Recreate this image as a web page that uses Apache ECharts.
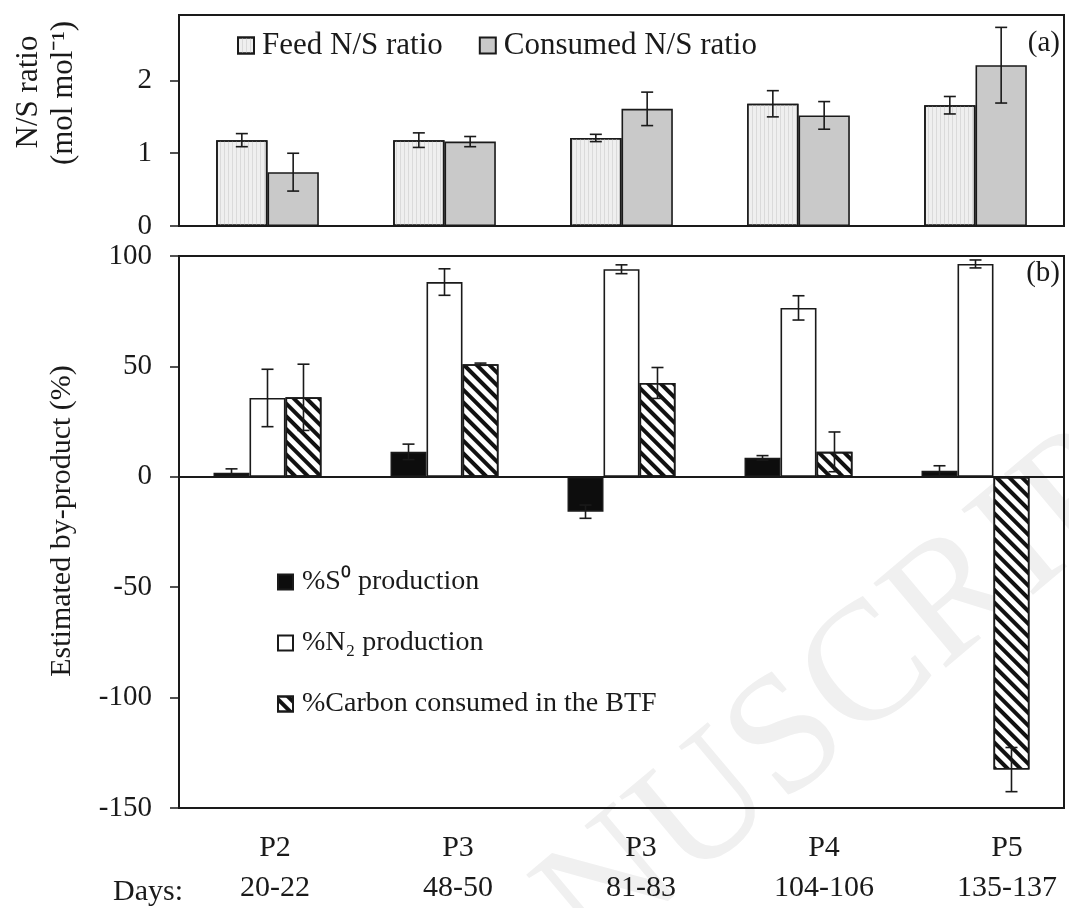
<!DOCTYPE html>
<html>
<head>
<meta charset="utf-8">
<script src="https://cdn.jsdelivr.net/npm/echarts@6/dist/echarts.min.js"></script>
<style>
  html, body { margin: 0; padding: 0; background: #fff; }
  #container { width: 1069px; height: 908px; }
</style>
</head>
<body>
<div id="container"></div>
<script>
var dom = document.getElementById("container");
var myChart = echarts.init(dom);

var phases = ['P2', 'P3', 'P3', 'P4', 'P5'];
var days = ['20-22', '48-50', '81-83', '104-106', '135-137'];
var categories = phases.map(function (p, i) { return p + '\n' + days[i]; });

// (a) N/S ratio
var feedNS = [1.18, 1.18, 1.21, 1.68, 1.66];
var feedNSErr = [0.09, 0.10, 0.05, 0.18, 0.12];
var consNS = [0.74, 1.16, 1.61, 1.52, 2.21];
var consNSErr = [0.26, 0.07, 0.23, 0.19, 0.52];

// (b) by-products (%)
var s0Prod = [1.8, 11.3, -15.8, 8.6, 2.7];
var s0Err = [1.8, 3.5, 3.0, 1.0, 2.3];
var n2Prod = [35.7, 88.2, 94.0, 76.5, 96.4];
var n2Err = [13, 6, 2, 5.5, 1.8];
var carbonCons = [36, 51, 42.5, 11.3, -132.6];
var carbonErr = [15, 0.5, 7, 9, 10];

var topTicks = [0, 1, 2];
var bottomTicks = [-150, -100, -50, 0, 50, 100];

var FONT = "'Liberation Serif', 'Times New Roman', serif";
var INK = '#1a1a1a';

function errData(vals, errs) {
    return vals.map(function (v, i) { return [i, v - errs[i], v + errs[i]]; });
}

function errRender(pos, nBars, gap) {
    return function (params, api) {
        var x = api.value(0);
        var lo = api.coord([x, api.value(1)]);
        var hi = api.coord([x, api.value(2)]);
        var cw = api.size([1, 0])[0];
        var bw = cw * (1 - gap) / nBars;
        var cx = lo[0] + (pos - (nBars - 1) / 2) * bw;
        var cap = 6;
        var st = { stroke: INK, lineWidth: 1.6 };
        return {
            type: 'group',
            children: [
                { type: 'line', shape: { x1: cx, y1: lo[1], x2: cx, y2: hi[1] }, style: st },
                { type: 'line', shape: { x1: cx - cap, y1: hi[1], x2: cx + cap, y2: hi[1] }, style: st },
                { type: 'line', shape: { x1: cx - cap, y1: lo[1], x2: cx + cap, y2: lo[1] }, style: st }
            ]
        };
    };
}

var stripes = {
    symbol: 'rect', symbolSize: 1, color: '#111',
    dashArrayX: [1, 0], dashArrayY: [4, 5], rotation: Math.PI / 4
};
var fineLines = {
    symbol: 'rect', symbolSize: 1, color: '#dadada',
    dashArrayX: [1, 3], dashArrayY: [1, 0], rotation: 0
};

var catAxisBase = {
    type: 'category',
    data: categories,
    axisLine: { lineStyle: { color: INK, width: 2 } },
    axisLabel: { show: false },
    splitLine: { show: false }
};

option = {
    backgroundColor: '#fff',
    animation: false,
    textStyle: { fontFamily: FONT, color: INK },
    grid: [
        { left: 179, right: 5, top: 15, height: 211, show: true, borderColor: INK, borderWidth: 2 },
        { left: 179, right: 5, top: 256, height: 552, show: true, borderColor: INK, borderWidth: 2 },
        { left: 275, right: 62, top: 806, height: 2 }
    ],
    legend: [
        {
            data: ['Feed N/S ratio', 'Consumed N/S ratio'],
            icon: 'rect',
            left: 232, top: 25,
            itemWidth: 16, itemHeight: 16, itemGap: 36,
            textStyle: { fontFamily: FONT, fontSize: 31, color: INK, padding: [0, 0, 0, 3] }
        },
        {
            data: ['%S\u2070 production', '%N\u2082 production', '%Carbon consumed in the BTF'],
            icon: 'rect',
            orient: 'vertical',
            left: 272, top: 562,
            itemWidth: 15, itemHeight: 15, itemGap: 31,
            textStyle: { fontFamily: FONT, fontSize: 28, lineHeight: 30, color: INK, padding: [0, 0, 0, 4] }
        }
    ],
    xAxis: [
        Object.assign({}, catAxisBase, { gridIndex: 0, axisTick: { length: 9, lineStyle: { color: INK, width: 1.5 } } }),
        Object.assign({}, catAxisBase, { gridIndex: 0, axisTick: { inside: true, length: 12, lineStyle: { color: INK, width: 1.5 } } }),
        Object.assign({}, catAxisBase, { gridIndex: 1, axisLine: { onZero: true, lineStyle: { color: INK, width: 2 } }, axisTick: { length: 10, lineStyle: { color: INK, width: 1.5 } } }),
        Object.assign({}, catAxisBase, { gridIndex: 1, axisLine: { onZero: true, lineStyle: { color: INK, width: 2 } }, axisTick: { inside: true, length: 10, lineStyle: { color: INK, width: 1.5 } } }),
        {
            type: 'category', gridIndex: 2, data: categories, boundaryGap: false,
            axisLine: { show: false }, axisTick: { show: false },
            axisLabel: { fontFamily: FONT, fontSize: 30, lineHeight: 40, color: INK, margin: 22, interval: 0 }
        }
    ],
    yAxis: [
        {
            type: 'value', gridIndex: 0, min: topTicks[0], max: 2.9, interval: 1,
            axisLine: { show: true, lineStyle: { color: INK, width: 2 } },
            axisTick: { show: true, length: 9, lineStyle: { color: INK, width: 1.5 } },
            axisLabel: { fontFamily: FONT, fontSize: 29, color: INK, margin: 27, showMaxLabel: false },
            splitLine: { show: false }
        },
        {
            type: 'value', gridIndex: 1, min: bottomTicks[0], max: bottomTicks[bottomTicks.length - 1], interval: 50,
            axisLine: { show: true, onZero: false, lineStyle: { color: INK, width: 2 } },
            axisTick: { show: true, length: 9, lineStyle: { color: INK, width: 1.5 } },
            axisLabel: { fontFamily: FONT, fontSize: 29, color: INK, margin: 27 },
            splitLine: { show: false }
        },
        { type: 'value', gridIndex: 2, show: false }
    ],
    series: [
        {
            name: 'Feed N/S ratio', type: 'bar', xAxisIndex: 0, yAxisIndex: 0,
            data: feedNS, barGap: '0%', barCategoryGap: '42%',
            itemStyle: { color: '#efefef', borderColor: INK, borderWidth: 1.6, decal: fineLines }
        },
        {
            name: 'Consumed N/S ratio', type: 'bar', xAxisIndex: 0, yAxisIndex: 0,
            data: consNS, barGap: '0%', barCategoryGap: '42%',
            itemStyle: { color: '#c9c9c9', borderColor: INK, borderWidth: 1.6 }
        },
        {
            type: 'custom', xAxisIndex: 0, yAxisIndex: 0, z: 5,
            renderItem: errRender(0, 2, 0.42), data: errData(feedNS, feedNSErr)
        },
        {
            type: 'custom', xAxisIndex: 0, yAxisIndex: 0, z: 5,
            renderItem: errRender(1, 2, 0.42), data: errData(consNS, consNSErr)
        },
        {
            name: '%S\u2070 production', type: 'bar', xAxisIndex: 2, yAxisIndex: 1,
            data: s0Prod, barGap: '0%', barCategoryGap: '39%',
            itemStyle: { color: '#0d0d0d', borderColor: INK, borderWidth: 1.6 }
        },
        {
            name: '%N\u2082 production', type: 'bar', xAxisIndex: 2, yAxisIndex: 1,
            data: n2Prod, barGap: '0%', barCategoryGap: '39%',
            itemStyle: { color: '#ffffff', borderColor: INK, borderWidth: 1.6 }
        },
        {
            name: '%Carbon consumed in the BTF', type: 'bar', xAxisIndex: 2, yAxisIndex: 1,
            data: carbonCons, barGap: '0%', barCategoryGap: '39%',
            itemStyle: { color: '#ffffff', borderColor: INK, borderWidth: 1.6, decal: stripes }
        },
        {
            type: 'custom', xAxisIndex: 2, yAxisIndex: 1, z: 5,
            renderItem: errRender(0, 3, 0.39), data: errData(s0Prod, s0Err)
        },
        {
            type: 'custom', xAxisIndex: 2, yAxisIndex: 1, z: 5,
            renderItem: errRender(1, 3, 0.39), data: errData(n2Prod, n2Err)
        },
        {
            type: 'custom', xAxisIndex: 2, yAxisIndex: 1, z: 5,
            renderItem: errRender(2, 3, 0.39), data: errData(carbonCons, carbonErr)
        }
    ],
    graphic: [
        {
            type: 'text', z: -10, x: 410, y: 1170, rotation: 40 * Math.PI / 180,
            style: { text: 'MANUSCRIPT', font: "170px " + FONT, fill: '#f0f0f0', textAlign: 'left', textVerticalAlign: 'bottom' }
        },
        {
            type: 'text', x: 29, y: 92, rotation: Math.PI / 2,
            style: { text: 'N/S ratio', font: "31px " + FONT, fill: INK, textAlign: 'center', textVerticalAlign: 'middle' }
        },
        {
            type: 'text', x: 64, y: 93, rotation: Math.PI / 2,
            style: { text: '(mol mol\u207B\u00B9)', font: "31px " + FONT, fill: INK, textAlign: 'center', textVerticalAlign: 'middle' }
        },
        {
            type: 'text', x: 62, y: 521, rotation: Math.PI / 2,
            style: { text: 'Estimated by-product (%)', font: "30px " + FONT, fill: INK, textAlign: 'center', textVerticalAlign: 'middle' }
        },
        {
            type: 'text', x: 1060, y: 43,
            style: { text: '(a)', font: "29px " + FONT, fill: INK, textAlign: 'right', textVerticalAlign: 'middle' }
        },
        {
            type: 'text', x: 1060, y: 273,
            style: { text: '(b)', font: "29px " + FONT, fill: INK, textAlign: 'right', textVerticalAlign: 'middle' }
        },
        {
            type: 'text', x: 113, y: 892,
            style: { text: 'Days:', font: "30px " + FONT, fill: INK, textAlign: 'left', textVerticalAlign: 'middle' }
        }
    ]
};

if (option && typeof option === "object") {
    myChart.setOption(option, true);
}
</script>
</body>
</html>
